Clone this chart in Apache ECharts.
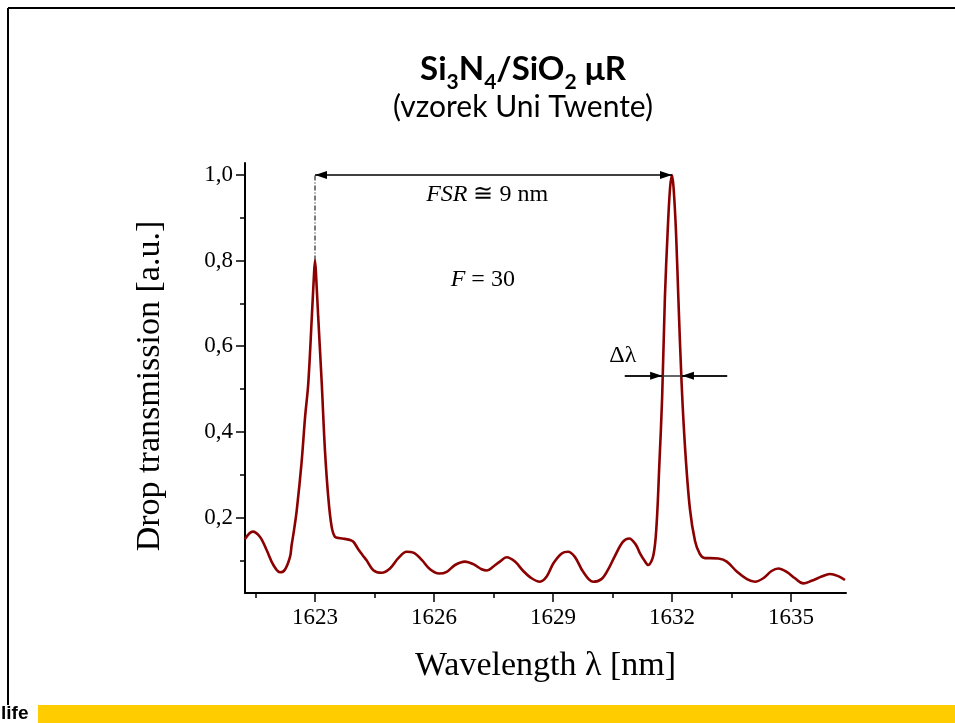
<!DOCTYPE html>
<html><head><meta charset="utf-8">
<script src="https://cdn.jsdelivr.net/npm/echarts@6/dist/echarts.min.js"></script>
<style>html,body{margin:0;padding:0;background:#fff;overflow:hidden}#c{width:955px;height:723px}</style>
</head><body><div id="c"></div>
<script>
// ---- data ----
const wavelength = [
 1621.23,1621.43,1621.61,1621.78,1621.95,1622.12,1622.24,1622.37,1622.41,1622.47,
 1622.54,1622.66,1622.75,1622.83,1622.92,1622.97,1623.00,1623.03,1623.08,1623.17,
 1623.25,1623.34,1623.42,1623.50,1623.60,1623.75,1623.90,1623.97,1624.09,1624.20,
 1624.30,1624.47,1624.68,1624.89,1625.10,1625.31,1625.48,1625.69,1625.90,1626.13,
 1626.32,1626.53,1626.78,1626.99,1627.20,1627.33,1627.49,1627.66,1627.83,1628.04,
 1628.25,1628.46,1628.67,1628.84,1629.01,1629.22,1629.38,1629.55,1629.76,1630.01,
 1630.22,1630.38,1630.55,1630.76,1630.92,1631.09,1631.20,1631.30,1631.40,1631.53,
 1631.61,1631.68,1631.75,1631.82,1631.89,1631.95,1632.00,1632.04,1632.10,1632.16,
 1632.24,1632.33,1632.45,1632.58,1632.70,1632.83,1632.96,1633.17,1633.38,1633.64,
 1633.89,1634.09,1634.30,1634.51,1634.68,1634.89,1635.10,1635.31,1635.52,1635.77,
 1635.98,1636.19,1636.36
];
const transmission = [
 0.149,0.167,0.155,0.124,0.089,0.072,0.078,0.108,0.135,0.170,
 0.217,0.327,0.435,0.513,0.669,0.760,0.801,0.760,0.669,0.513,
 0.358,0.241,0.178,0.155,0.152,0.150,0.147,0.143,0.126,0.112,
 0.100,0.077,0.071,0.081,0.105,0.120,0.118,0.101,0.079,0.069,
 0.073,0.089,0.097,0.091,0.079,0.076,0.085,0.097,0.107,0.097,
 0.075,0.058,0.050,0.062,0.093,0.116,0.120,0.108,0.073,0.050,
 0.056,0.077,0.108,0.143,0.151,0.136,0.115,0.100,0.089,0.112,
 0.182,0.323,0.478,0.712,0.868,0.969,1.000,0.969,0.868,0.712,
 0.517,0.361,0.221,0.145,0.115,0.105,0.105,0.104,0.097,0.073,
 0.056,0.050,0.058,0.075,0.081,0.073,0.058,0.046,0.052,0.062,
 0.068,0.063,0.054
];
const xMajorTicks = [1623, 1626, 1629, 1632, 1635];
const xMinorTicks = [1621.5, 1624.5, 1627.5, 1630.5, 1633.5];
const yMajorTicks = [0.2, 0.4, 0.6, 0.8, 1.0];
const yMinorTicks = [0.1, 0.3, 0.5, 0.7, 0.9];
const xRange = [1621.235, 1636.386];
const yRange = [0.0236, 1.028];
// annotation geometry (data coordinates)
const fsrGuide = [[1623, 0.8], [1623, 1.0]];
const fsrArrow = [[1623, 1.0], [1632, 1.0]];
const fwhmLine = [[1630.81, 0.531], [1633.39, 0.531]];
const fwhmLeftArrow = [[1630.81, 0.531], [1631.75, 0.531]];
const fwhmRightArrow = [[1633.39, 0.531], [1632.25, 0.531]];
const annotationTexts = [
  { pos: [1627.34, 0.953], text: '{i|FSR} ≅ 9 nm' },
  { pos: [1627.23, 0.755], text: '{i|F} = 30' },
  { pos: [1630.76, 0.577], text: 'Δλ' }
];

const serif = '"Liberation Serif","Times New Roman",serif';
const arrowHead = 'path://M0,-12M0,0L4,12L-4,12Z';

const chart = echarts.init(document.getElementById('c'), null, { renderer: 'canvas' });

const baseAxisX = {
  type: 'value', min: xRange[0], max: xRange[1], position: 'bottom',
  splitLine: { show: false }
};
const baseAxisY = {
  type: 'value', min: yRange[0], max: yRange[1], position: 'left',
  splitLine: { show: false }
};

const staticGraphics = [
  { type: 'line', silent: true, shape: { x1: 8, y1: 8, x2: 955, y2: 8 }, style: { stroke: '#000', lineWidth: 2 } },
  { type: 'line', silent: true, shape: { x1: 8, y1: 8, x2: 8, y2: 705 }, style: { stroke: '#000', lineWidth: 2 } },
  { type: 'rect', silent: true, shape: { x: 0, y: 705, width: 955, height: 18 }, style: { fill: '#FFCC00' } },
  { type: 'rect', silent: true, shape: { x: 0, y: 705, width: 38, height: 18 }, style: { fill: '#FFFFFF' } },
  { type: 'text', silent: true, x: 1, y: 714,
    style: { text: 'life', font: 'bold 19px "Liberation Sans Narrow","Liberation Sans",sans-serif', fill: '#000', verticalAlign: 'middle' } },
  { type: 'text', silent: true, rotation: Math.PI / 2, x: 150, y: 386,
    style: { text: 'Drop transmission [a.u.]', align: 'center', verticalAlign: 'middle',
      font: '34px "Liberation Serif","Times New Roman",serif', fill: '#000' } },
  { type: 'text', silent: true, x: 523, y: 69,
    style: {
      text: '{b|Si}{s|3}{b|N}{s|4}{b|/SiO}{s|2}{b| μR}',
      align: 'center', verticalAlign: 'middle',
      rich: {
        b: { font: 'bold 33px Lato,"Open Sans",sans-serif', fill: '#000', lineHeight: 38 },
        s: { font: 'bold 21px Lato,"Open Sans",sans-serif', fill: '#000', lineHeight: 18, verticalAlign: 'bottom', padding: [0, 0, -5, 0] }
      }
    } },
  { type: 'text', silent: true, x: 523, y: 107,
    style: { text: '(vzorek Uni Twente)', align: 'center', verticalAlign: 'middle',
      font: '30px Lato,"Open Sans",sans-serif', fill: '#000' } }
];

chart.setOption({
  animation: false,
  backgroundColor: '#ffffff',
  grid: { left: 245, right: 109, top: 163, bottom: 130, containLabel: false },
  xAxis: [
    Object.assign({}, baseAxisX, {
      name: 'Wavelength λ [nm]', nameLocation: 'middle', nameGap: 56,
      nameTextStyle: { fontFamily: serif, fontSize: 34, color: '#000' },
      axisLine: { show: true, lineStyle: { color: '#000', width: 2 } },
      axisTick: { show: true, inside: false, length: 9, lineStyle: { color: '#000', width: 1.5 }, customValues: xMajorTicks },
      axisLabel: { show: true, customValues: xMajorTicks, fontFamily: serif, fontSize: 23, color: '#000', margin: 13,
        formatter: v => String(Math.round(v)) }
    }),
    Object.assign({}, baseAxisX, {
      axisLine: { show: false },
      axisTick: { show: true, inside: false, length: 5, lineStyle: { color: '#000', width: 1.5 }, customValues: xMinorTicks },
      axisLabel: { show: false }
    })
  ],
  yAxis: [
    Object.assign({}, baseAxisY, {
      axisLine: { show: true, lineStyle: { color: '#000', width: 2 } },
      axisTick: { show: true, inside: false, length: 9, lineStyle: { color: '#000', width: 1.5 }, customValues: yMajorTicks },
      axisLabel: { show: true, customValues: yMajorTicks, fontFamily: serif, fontSize: 23, color: '#000', margin: 12,
        formatter: v => v.toFixed(1).replace('.', ',') }
    }),
    Object.assign({}, baseAxisY, {
      axisLine: { show: false },
      axisTick: { show: true, inside: false, length: 5, lineStyle: { color: '#000', width: 1.5 }, customValues: yMinorTicks },
      axisLabel: { show: false }
    })
  ],
  series: [
    {
      type: 'line', name: 'guide', xAxisIndex: 0, yAxisIndex: 0,
      data: fsrGuide, symbol: 'none', silent: true,
      lineStyle: { color: '#222', width: 1.2, type: [5, 2, 1, 2] },
      markLine: {
        silent: true, animation: false,
        label: { show: false },
        emphasis: { disabled: true },
        lineStyle: { color: '#000', width: 1.5, type: 'solid' },
        symbolSize: [8, 24],
        data: [
          [{ coord: fsrArrow[0], symbol: arrowHead }, { coord: fsrArrow[1], symbol: arrowHead }],
          [{ coord: fwhmLine[0], symbol: 'none' }, { coord: fwhmLine[1], symbol: 'none', lineStyle: { color: '#333', width: 1.5 } }],
          [{ coord: fwhmLeftArrow[0], symbol: 'none' }, { coord: fwhmLeftArrow[1], symbol: arrowHead }],
          [{ coord: fwhmRightArrow[0], symbol: 'none' }, { coord: fwhmRightArrow[1], symbol: arrowHead }]
        ]
      }
    },
    {
      type: 'line', name: 'spectrum', xAxisIndex: 0, yAxisIndex: 0,
      data: wavelength.map((w, i) => [w, transmission[i]]),
      symbol: 'none', smooth: 0.35, silent: true,
      lineStyle: { color: '#8B0000', width: 2.6 },
      z: 3
    }
  ],
  graphic: staticGraphics
});

// annotation texts placed at data coordinates through the chart's own scales
const annotationGraphics = annotationTexts.map(a => {
  const p = chart.convertToPixel({ xAxisIndex: 0, yAxisIndex: 0 }, a.pos);
  return {
    type: 'text', silent: true, x: p[0], y: p[1], z: 10,
    style: {
      text: a.text, align: 'center', verticalAlign: 'middle',
      font: '24px "Liberation Serif","Times New Roman",serif', fill: '#000',
      rich: { i: { font: 'italic 24px "Liberation Serif","Times New Roman",serif', fill: '#000' } }
    }
  };
});
chart.setOption({ graphic: staticGraphics.concat(annotationGraphics) });
</script>
</body></html>
